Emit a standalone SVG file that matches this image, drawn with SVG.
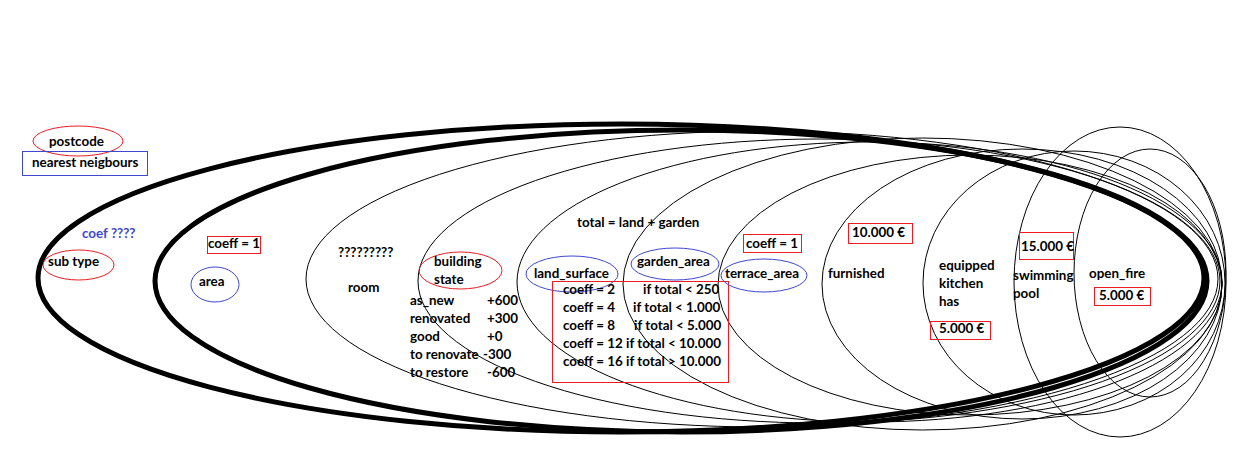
<svg xmlns="http://www.w3.org/2000/svg" width="1234" height="470" viewBox="0 0 1234 470">
<style>
.t{font-family:Lato,"Liberation Sans",sans-serif;font-weight:bold;font-size:13.4px;fill:#000}
.b{fill:#3F48CC}
.ring{fill:none;stroke:#000;stroke-width:1}
.thick{fill:none;stroke:#000;stroke-width:5}
.re{fill:none;stroke:#ED1C24;stroke-width:1}
.be{fill:none;stroke:#3F48CC;stroke-width:1}
</style>
<rect width="1234" height="470" fill="#fff"/>
<g id="rings">
<ellipse class="thick" cx="621" cy="278" rx="583" ry="154"/>
<ellipse class="thick" cx="681" cy="281" rx="526" ry="151"/>
<ellipse class="ring" cx="762" cy="279" rx="456" ry="148"/>
<ellipse class="ring" cx="819" cy="281" rx="401" ry="142"/>
<ellipse class="ring" cx="869.5" cy="282" rx="352.5" ry="140"/>
<ellipse class="ring" cx="922.5" cy="284" rx="299.5" ry="146"/>
<ellipse class="ring" cx="970" cy="285" rx="252" ry="130"/>
<ellipse class="ring" cx="1022" cy="284" rx="200" ry="135"/>
<ellipse class="ring" cx="1074" cy="283" rx="151" ry="132"/>
<ellipse class="ring" cx="1120" cy="282" rx="106" ry="155"/>
<ellipse class="ring" cx="1150" cy="273" rx="76" ry="124"/>
</g>
<g id="postcode">
<ellipse class="re" cx="78" cy="141" rx="45" ry="15"/>
<text class="t" x="49" y="145.5">postcode</text>
</g>
<g id="nearest-neighbours">
<rect class="be" x="22.5" y="151.5" width="125" height="24"/>
<text class="t" x="32" y="166.5">nearest neigbours</text>
</g>
<g id="coef">
<text class="t b" x="82" y="237.5">coef ????</text>
</g>
<g id="sub-type">
<ellipse class="re" cx="78.5" cy="265" rx="35.5" ry="15"/>
<text class="t" x="48" y="265.5">sub type</text>
</g>
<g id="coeff-area">
<rect class="re" x="207.5" y="236.5" width="53" height="17"/>
<text class="t" x="208" y="247.5">coeff = 1</text>
</g>
<g id="area">
<ellipse class="be" cx="215" cy="284.5" rx="24" ry="17.5"/>
<text class="t" x="199" y="285.5">area</text>
</g>
<g id="room">
<text class="t" x="338" y="256.5">?????????</text>
<text class="t" x="348" y="291.5">room</text>
</g>
<g id="building-state">
<ellipse class="re" cx="460.5" cy="270.5" rx="41.5" ry="18.5"/>
<text class="t" x="434" y="265.5">building</text>
<text class="t" x="434" y="283.5">state</text>
</g>
<g id="state-values">
<text class="t" x="410" y="304.5">as_new</text><text class="t" x="487" y="304.5">+600</text>
<text class="t" x="410" y="322.5">renovated</text><text class="t" x="487" y="322.5">+300</text>
<text class="t" x="410" y="340.5">good</text><text class="t" x="487" y="340.5">+0</text>
<text class="t" x="410" y="358.5">to renovate</text><text class="t" x="483" y="358.5">-300</text>
<text class="t" x="410" y="376.5">to restore</text><text class="t" x="487" y="376.5">-600</text>
</g>
<g id="total">
<text class="t" x="577" y="226.5">total = land + garden</text>
</g>
<g id="land-surface">
<ellipse class="be" cx="572" cy="274" rx="46" ry="18"/>
<text class="t" x="534" y="277.5">land_surface</text>
</g>
<g id="garden-area">
<ellipse class="be" cx="675" cy="264" rx="44" ry="16"/>
<text class="t" x="637" y="265.5">garden_area</text>
</g>
<g id="coeff-table">
<rect class="re" x="552.5" y="281.5" width="176" height="101"/>
<text class="t" x="563" y="293.5">coeff = 2</text><text class="t" x="643" y="293.5">if total &lt; 250</text>
<text class="t" x="563" y="311.5">coeff = 4</text><text class="t" x="633" y="311.5">if total &lt; 1.000</text>
<text class="t" x="563" y="329.5">coeff = 8</text><text class="t" x="634" y="329.5">if total &lt; 5.000</text>
<text class="t" x="563" y="347.5">coeff = 12 if total &lt; 10.000</text>
<text class="t" x="563" y="365.5">coeff = 16 if total &gt; 10.000</text>
</g>
<g id="coeff-terrace">
<rect class="re" x="743.5" y="234.5" width="58" height="18"/>
<text class="t" x="746" y="247.5">coeff = 1</text>
</g>
<g id="terrace-area">
<ellipse class="be" cx="764" cy="275.5" rx="43" ry="16.5"/>
<text class="t" x="725" y="277.5">terrace_area</text>
</g>
<g id="furnished">
<rect class="re" x="848.5" y="223.5" width="64" height="20"/>
<text class="t" x="852" y="236.5">10.000 €</text>
<text class="t" x="828" y="277.5">furnished</text>
</g>
<g id="kitchen">
<text class="t" x="939" y="269.5">equipped</text>
<text class="t" x="939" y="287.5">kitchen</text>
<text class="t" x="939" y="305.5">has</text>
<rect class="re" x="930.5" y="321.5" width="60" height="18"/>
<text class="t" x="939" y="332.5">5.000 €</text>
</g>
<g id="swimming-pool">
<rect class="re" x="1019.5" y="232.5" width="54" height="27"/>
<text class="t" x="1021" y="250.5">15.000 €</text>
<text class="t" x="1013" y="279.5">swimming</text>
<text class="t" x="1013" y="297.5">pool</text>
</g>
<g id="open-fire">
<text class="t" x="1089" y="277.5">open_fire</text>
<rect class="re" x="1094.5" y="287.5" width="56" height="18"/>
<text class="t" x="1099" y="299.5">5.000 €</text>
</g>
</svg>
